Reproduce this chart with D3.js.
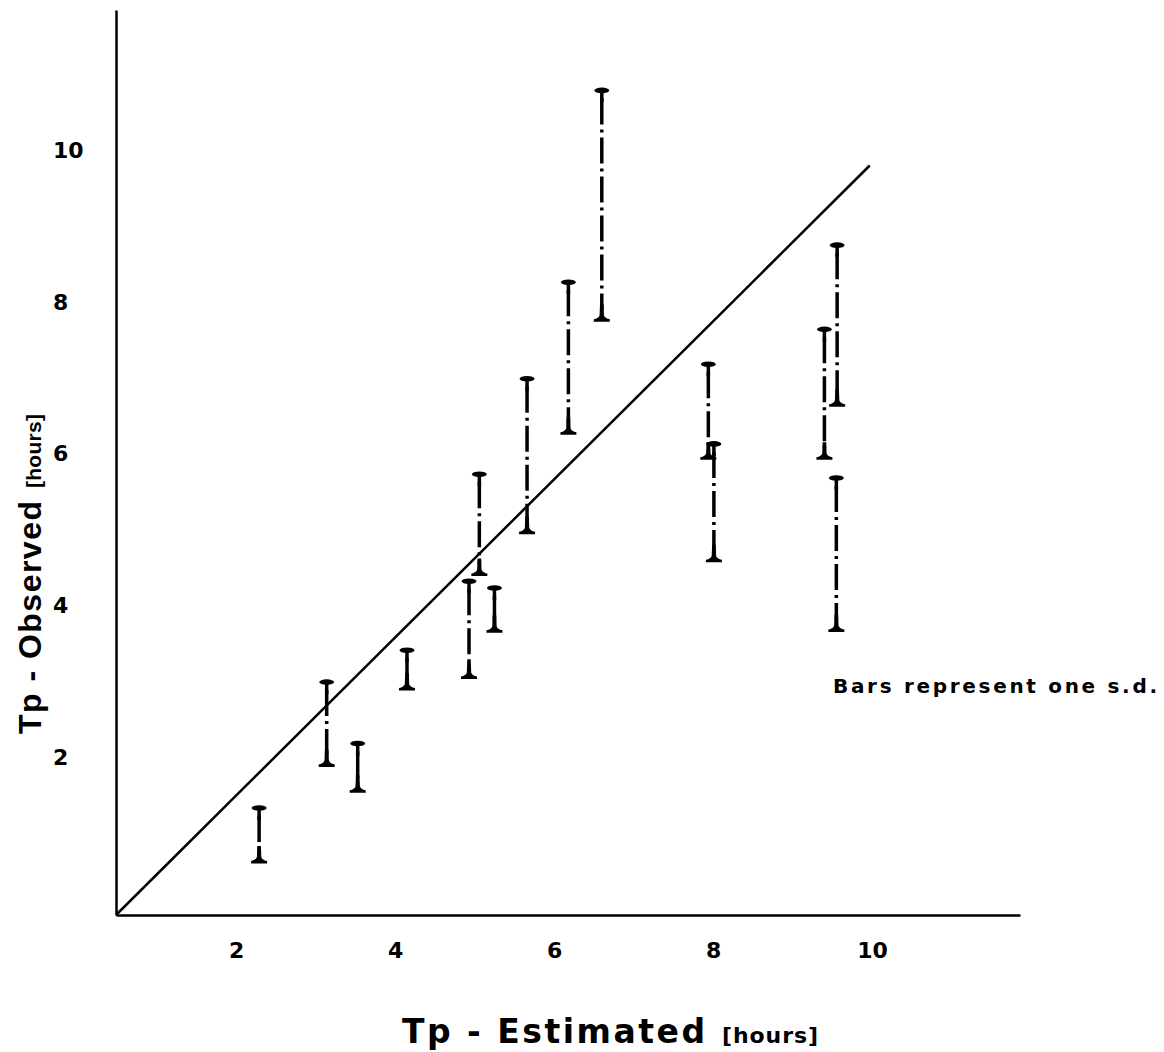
<!DOCTYPE html>
<html>
<head>
<meta charset="utf-8">
<script src="https://cdn.jsdelivr.net/npm/d3@7"></script>
<style>
    body { margin: 0; background: #fff; }
    text { font-family: "DejaVu Sans", "Liberation Sans", Arial, sans-serif; font-weight: bold; fill: #000; }
    .narrow { font-family: "Liberation Sans", Arial, sans-serif; }
</style>
</head>
<body>
<script>
// Tp estimated (x) and observed mean +/- one s.d. (low, high)
const tpEstimated = [2.29, 3.14, 3.53, 4.15, 4.93, 5.06, 5.25, 5.66, 6.18, 6.60, 7.94, 8.01, 9.40, 9.56, 9.55];
const tpObsLow    = [0.62, 1.89, 1.55, 2.90, 3.05, 4.41, 3.66, 4.96, 6.27, 7.76, 5.94, 4.59, 5.94, 6.64, 3.67];
const tpObsHigh   = [1.33, 2.99, 2.18, 3.41, 4.32, 5.73, 4.23, 6.99, 8.26, 10.79, 7.18, 6.13, 7.64, 8.75, 5.68];
const xTicks = [2, 4, 6, 8, 10];
const yTicks = [2, 4, 6, 8, 10];
// line of equality as drawn in the figure
const lineX = [0.49, 9.97];
const lineY = [-0.08, 9.80];

const width = 1164, height = 1052;

const svg = d3.select("body").append("svg")
    .attr("width", width)
    .attr("height", height);

const x = d3.scaleLinear().domain([0.49, 11.86]).range([116, 1020]);
const y = d3.scaleLinear().domain([-0.08, 11.85]).range([915, 10]);

//x axis
const xAxis = svg.append("g")
    .attr("transform", "translate(0," + y(-0.08) + ")")
    .call(d3.axisBottom(x).tickValues(xTicks).tickSize(0).tickPadding(27).tickFormat(d3.format("d")));
xAxis.select(".domain").attr("stroke", "#000").attr("stroke-width", 2.5);
xAxis.selectAll("text").style("font-size", "22px");

//y axis
const yAxis = svg.append("g")
    .attr("transform", "translate(" + x(0.49) + ",0)")
    .call(d3.axisLeft(y).tickValues(yTicks).tickSize(0).tickFormat(d3.format("d")));
yAxis.select(".domain").attr("stroke", "#000").attr("stroke-width", 2.5);
yAxis.selectAll("text")
    .style("font-size", "22px")
    .attr("text-anchor", "start")
    .attr("x", -63);

//line of equality
svg.append("line")
    .attr("x1", x(lineX[0])).attr("y1", y(lineY[0]))
    .attr("x2", x(lineX[1])).attr("y2", y(lineY[1]))
    .attr("stroke", "#000")
    .attr("stroke-width", 2.5);

const bars = tpEstimated.map(function(d, i) {
    return { x: d, low: tpObsLow[i], high: tpObsHigh[i] };
});

const g = svg.selectAll(".sd").data(bars).enter().append("g").attr("class", "sd");

//dash-dot stem
g.append("line")
    .attr("x1", d => x(d.x)).attr("x2", d => x(d.x))
    .attr("y1", d => y(d.high) + 8).attr("y2", d => y(d.low) - 10)
    .attr("stroke", "#000")
    .attr("stroke-width", 3.5)
    .attr("stroke-dasharray", "26,5,3,5");

//solid piece below the top cap
g.append("line")
    .attr("x1", d => x(d.x)).attr("x2", d => x(d.x))
    .attr("y1", d => y(d.high)).attr("y2", d => y(d.high) + 12)
    .attr("stroke", "#000").attr("stroke-width", 3.5);

//top cap
g.append("ellipse")
    .attr("cx", d => x(d.x)).attr("cy", d => y(d.high))
    .attr("rx", 7.5).attr("ry", 2.8)
    .attr("fill", "#000");

//bottom foot
g.append("path")
    .attr("d", function(d) {
        const cx = x(d.x), b = y(d.low);
        return "M" + (cx - 1.8) + "," + (b - 16)
            + " L" + (cx - 2.2) + "," + (b - 5)
            + " Q" + (cx - 3) + "," + (b - 2) + " " + (cx - 8) + "," + (b - 1)
            + " L" + (cx - 8) + "," + (b + 1.5)
            + " L" + (cx + 8) + "," + (b + 1.5)
            + " L" + (cx + 8) + "," + (b - 1)
            + " Q" + (cx + 3) + "," + (b - 2) + " " + (cx + 2.2) + "," + (b - 5)
            + " L" + (cx + 1.8) + "," + (b - 16) + " Z";
    })
    .attr("fill", "#000");

//annotation
svg.append("text")
    .attr("x", 833).attr("y", 693)
    .style("font-size", "20px")
    .attr("textLength", 324)
    .attr("lengthAdjust", "spacing")
    .text("Bars represent one s.d.");

//x axis title
const xt = svg.append("text").attr("x", 402).attr("y", 1043);
xt.append("tspan").style("font-size", "33px").attr("textLength", 303).attr("lengthAdjust", "spacing").text("Tp - Estimated");
xt.append("tspan").attr("x", 722).style("font-size", "22px").attr("textLength", 96).attr("lengthAdjust", "spacing").text("[hours]");

//y axis title
const yt = svg.append("text")
    .attr("class", "narrow")
    .attr("transform", "translate(41,734) rotate(-90)");
yt.append("tspan").style("font-size", "32px").attr("textLength", 233).attr("lengthAdjust", "spacing").text("Tp - Observed");
yt.append("tspan").attr("x", 246).style("font-size", "21px").attr("textLength", 74).attr("lengthAdjust", "spacing").text("[hours]");
</script>
</body>
</html>
